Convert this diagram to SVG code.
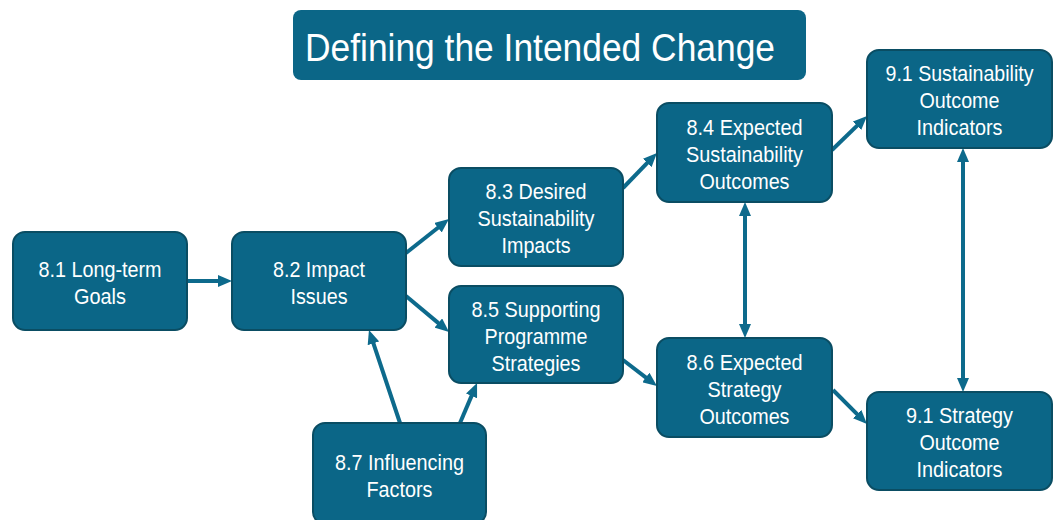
<svg xmlns="http://www.w3.org/2000/svg" width="1055" height="520" viewBox="0 0 1055 520">
  <style>
    .box { fill: #0b6687; stroke: #0a4d63; stroke-width: 2; }
    .lbl { font-family: "Liberation Sans", Arial, sans-serif; font-size: 22px; fill: #ffffff; text-anchor: middle; }
    .title { font-family: "Liberation Sans", Arial, sans-serif; font-size: 38px; fill: #ffffff; }
    .conn { stroke: #0d6a8c; stroke-width: 4; fill: none; }
  </style>
  <defs>
    <marker id="ah" viewBox="0 0 14 12" markerWidth="14" markerHeight="12" refX="6" refY="6" orient="auto-start-reverse" markerUnits="userSpaceOnUse">
      <path d="M0,0 L14,6 L0,12 z" fill="#0d6a8c"/>
    </marker>
  </defs>
  <rect width="1055" height="520" fill="#ffffff"/>

  <g id="title">
    <rect x="293" y="10" width="513" height="70" rx="8" fill="#0b6687"/>
    <text class="title" x="305" y="61" textLength="470" lengthAdjust="spacingAndGlyphs">Defining the Intended Change</text>
  </g>

  <g id="connectors">
    <line class="conn" x1="187" y1="281" x2="224" y2="281" marker-end="url(#ah)"/>
    <line class="conn" x1="406" y1="253" x2="442.7" y2="224" marker-end="url(#ah)"/>
    <line class="conn" x1="406" y1="296" x2="442.9" y2="326.9" marker-end="url(#ah)"/>
    <line class="conn" x1="623" y1="188" x2="651.4" y2="158.7" marker-end="url(#ah)"/>
    <line class="conn" x1="832" y1="150" x2="861.3" y2="121.6" marker-end="url(#ah)"/>
    <line class="conn" x1="623" y1="360" x2="650.6" y2="381.1" marker-end="url(#ah)"/>
    <line class="conn" x1="833" y1="390" x2="861.3" y2="418.3" marker-end="url(#ah)"/>
    <line class="conn" x1="745" y1="210" x2="745" y2="330" marker-start="url(#ah)" marker-end="url(#ah)"/>
    <line class="conn" x1="963" y1="156" x2="963" y2="384" marker-start="url(#ah)" marker-end="url(#ah)"/>
    <line class="conn" x1="400" y1="423" x2="371.5" y2="337.6" marker-end="url(#ah)"/>
    <line class="conn" x1="460" y1="423" x2="473.9" y2="390.4" marker-end="url(#ah)"/>
  </g>

  <g id="n81">
    <rect class="box" x="13" y="232" width="174" height="98" rx="12"/>
    <text class="lbl" x="100" y="277" textLength="123" lengthAdjust="spacingAndGlyphs">8.1 Long-term</text>
    <text class="lbl" x="100" y="304" textLength="52" lengthAdjust="spacingAndGlyphs">Goals</text>
  </g>
  <g id="n82">
    <rect class="box" x="232" y="232" width="174" height="98" rx="12"/>
    <text class="lbl" x="319" y="277" textLength="92" lengthAdjust="spacingAndGlyphs">8.2 Impact</text>
    <text class="lbl" x="319" y="304" textLength="57" lengthAdjust="spacingAndGlyphs">Issues</text>
  </g>
  <g id="n83">
    <rect class="box" x="449" y="168" width="174" height="98" rx="12"/>
    <text class="lbl" x="536" y="199" textLength="101" lengthAdjust="spacingAndGlyphs">8.3 Desired</text>
    <text class="lbl" x="536" y="226" textLength="117" lengthAdjust="spacingAndGlyphs">Sustainability</text>
    <text class="lbl" x="536" y="253" textLength="69" lengthAdjust="spacingAndGlyphs">Impacts</text>
  </g>
  <g id="n84">
    <rect class="box" x="657" y="103" width="175" height="99" rx="12"/>
    <text class="lbl" x="744.5" y="135" textLength="116" lengthAdjust="spacingAndGlyphs">8.4 Expected</text>
    <text class="lbl" x="744.5" y="162" textLength="117" lengthAdjust="spacingAndGlyphs">Sustainability</text>
    <text class="lbl" x="744.5" y="189" textLength="90" lengthAdjust="spacingAndGlyphs">Outcomes</text>
  </g>
  <g id="n85">
    <rect class="box" x="449" y="286" width="174" height="97" rx="12"/>
    <text class="lbl" x="536" y="317" textLength="129" lengthAdjust="spacingAndGlyphs">8.5 Supporting</text>
    <text class="lbl" x="536" y="344" textLength="103" lengthAdjust="spacingAndGlyphs">Programme</text>
    <text class="lbl" x="536" y="371" textLength="89" lengthAdjust="spacingAndGlyphs">Strategies</text>
  </g>
  <g id="n86">
    <rect class="box" x="657" y="338" width="175" height="99" rx="12"/>
    <text class="lbl" x="744.5" y="370" textLength="116" lengthAdjust="spacingAndGlyphs">8.6 Expected</text>
    <text class="lbl" x="744.5" y="397" textLength="74" lengthAdjust="spacingAndGlyphs">Strategy</text>
    <text class="lbl" x="744.5" y="424" textLength="90" lengthAdjust="spacingAndGlyphs">Outcomes</text>
  </g>
  <g id="n87">
    <rect class="box" x="313" y="423" width="173" height="101" rx="12"/>
    <text class="lbl" x="399.5" y="470" textLength="129" lengthAdjust="spacingAndGlyphs">8.7 Influencing</text>
    <text class="lbl" x="399.5" y="497" textLength="66" lengthAdjust="spacingAndGlyphs">Factors</text>
  </g>
  <g id="n91a">
    <rect class="box" x="867" y="50" width="185" height="98" rx="12"/>
    <text class="lbl" x="959.5" y="81" textLength="148" lengthAdjust="spacingAndGlyphs">9.1 Sustainability</text>
    <text class="lbl" x="959.5" y="108" textLength="80" lengthAdjust="spacingAndGlyphs">Outcome</text>
    <text class="lbl" x="959.5" y="135" textLength="86" lengthAdjust="spacingAndGlyphs">Indicators</text>
  </g>
  <g id="n91b">
    <rect class="box" x="867" y="392" width="185" height="98" rx="12"/>
    <text class="lbl" x="959.5" y="423" textLength="107" lengthAdjust="spacingAndGlyphs">9.1 Strategy</text>
    <text class="lbl" x="959.5" y="450" textLength="80" lengthAdjust="spacingAndGlyphs">Outcome</text>
    <text class="lbl" x="959.5" y="477" textLength="86" lengthAdjust="spacingAndGlyphs">Indicators</text>
  </g>
</svg>
